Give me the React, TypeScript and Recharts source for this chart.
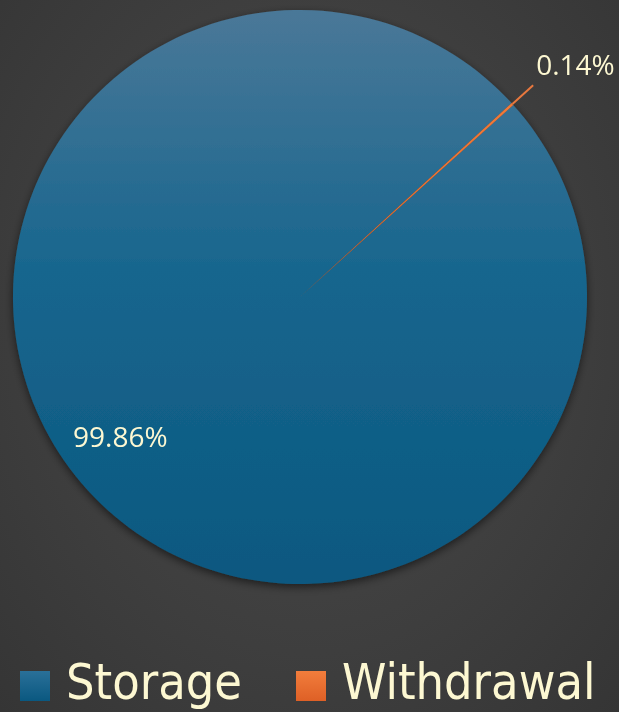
import React from "react"
import { PieChart, Pie, Cell, Legend } from "recharts"

const categories = ["Storage", "Withdrawal"]
const shares = [99.86, 0.14]
const sliceFills = ["url(#storageFill)", "url(#withdrawalFill)"]
const legendFills = [
  "linear-gradient(#2a7099, #0a5880)",
  "linear-gradient(#f27d3c, #de6026)",
]

const chartData = categories.map((name, i) => ({ name, value: shares[i] }))

const RADIAN = Math.PI / 180
const textColor = "#fdf8d2"
const labelFont = "'Open Sans', sans-serif"

function renderLabel(props: any) {
  const { cx, cy, midAngle, outerRadius, percent, index } = props
  const text = `${(percent * 100).toFixed(2)}%`
  const cos = Math.cos(-midAngle * RADIAN)
  const sin = Math.sin(-midAngle * RADIAN)
  if (index === 1) {
    // outside end, next to the leader line
    const r = outerRadius + 28
    return (
      <text x={cx + r * cos + 3} y={cy + r * sin - 10} fill={textColor} fontSize={28} fontFamily={labelFont} textAnchor="start">
        {text}
      </text>
    )
  }
  const r = outerRadius * 0.78
  return (
    <text x={cx + r * cos - 14} y={cy + r * sin - 12} fill={textColor} fontSize={28} fontFamily={labelFont} textAnchor="middle" dominantBaseline="central">
      {text}
    </text>
  )
}

function renderLabelLine(props: any) {
  const { cx, cy, midAngle, outerRadius, index } = props
  if (index !== 1) return <g />
  const cos = Math.cos(-midAngle * RADIAN)
  const sin = Math.sin(-midAngle * RADIAN)
  return (
    <line
      x1={cx + outerRadius * cos}
      y1={cy + outerRadius * sin}
      x2={cx + (outerRadius + 28) * cos}
      y2={cy + (outerRadius + 28) * sin}
      stroke="#e8783e"
      strokeWidth={2}
    />
  )
}

function renderLegend(props: any) {
  const { payload = [] } = props
  return (
    <div style={{ display: "flex", alignItems: "center", paddingLeft: 20, height: 60 }}>
      {payload.map((entry: any, i: number) => (
        <div key={entry.value} style={{ display: "flex", alignItems: "center", marginRight: 54 }}>
          <span style={{ display: "inline-block", width: 30, height: 30, background: legendFills[i], marginRight: 16, marginTop: 8 }} />
          <span style={{ fontSize: 50, lineHeight: 1, color: textColor, fontFamily: "'DejaVu Sans Condensed', 'DejaVu Sans', sans-serif", fontStretch: "condensed" }}>
            {entry.value}
          </span>
        </div>
      ))}
    </div>
  )
}

export default function App() {
  return (
    <div
      style={{
        position: "fixed",
        left: 0,
        top: 0,
        width: 619,
        height: 712,
        background: "radial-gradient(ellipse at 50% 45%, #4a4a4a 0%, #3e3e3e 60%, #353535 100%)",
      }}
    >
      <PieChart width={619} height={712} margin={{ top: 0, right: 0, bottom: 0, left: 0 }}>
        <defs>
          <linearGradient id="storageFill" x1="0" y1="0" x2="0" y2="1">
            <stop offset="0%" stopColor="#4a7898" />
            <stop offset="45%" stopColor="#18668e" />
            <stop offset="100%" stopColor="#0a5880" />
          </linearGradient>
          <linearGradient id="withdrawalFill" x1="0" y1="0" x2="0" y2="1">
            <stop offset="0%" stopColor="#f07a3a" />
            <stop offset="100%" stopColor="#e0682c" />
          </linearGradient>
          <filter id="pieShadow" x="-10%" y="-10%" width="120%" height="125%">
            <feDropShadow dx="0" dy="3" stdDeviation="4" floodColor="#000" floodOpacity="0.55" />
          </filter>
        </defs>
        <Pie
          data={chartData}
          dataKey="value"
          nameKey="name"
          cx={300}
          cy={297}
          outerRadius={287}
          startAngle={42}
          endAngle={-318}
          stroke="none"
          label={renderLabel}
          labelLine={renderLabelLine}
          isAnimationActive={false}
        >
          {chartData.map((d, i) => (
            <Cell key={d.name} fill={sliceFills[i]} stroke="none" filter={i === 0 ? "url(#pieShadow)" : undefined} />
          ))}
        </Pie>
        <Legend verticalAlign="bottom" align="left" content={renderLegend} wrapperStyle={{ left: 0, bottom: 0, width: 619 }} />
      </PieChart>
    </div>
  )
}
